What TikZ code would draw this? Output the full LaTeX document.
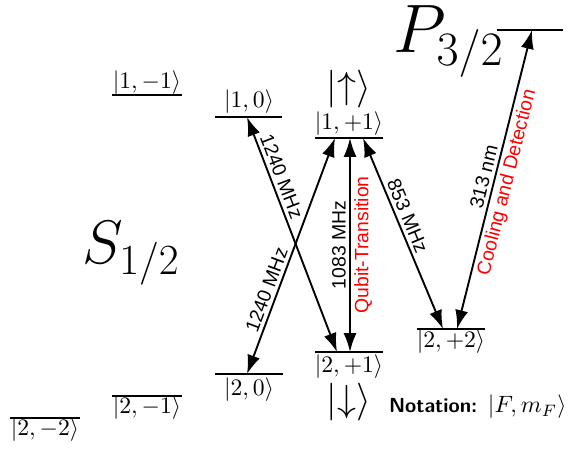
\RequirePackage{fix-cm}
\documentclass[tikz,border=0pt]{standalone}
\usepackage{fontspec}
\newfontfamily\arialf{Liberation Sans}
\usetikzlibrary{arrows.meta}
\begin{document}
\begin{tikzpicture}[x=0.423pt,y=-0.423pt,
  lvl/.style={line width=1.2pt},
  bar/.style={line width=0.8pt},
  lab/.style={inner sep=0pt},
  tr/.style={line width=0.8pt,{Latex[length=8pt,width=5.5pt]}-{Latex[length=8pt,width=5.5pt]}},
  fl/.style={font=\arialf\fontsize{8.2}{9}\selectfont,sloped,inner sep=1.4pt},
  red/.style={text=red}
]
\useasboundingbox (0,0) rectangle (570,451);

% ---- level lines
\draw[lvl] (215,117) -- (282,117);
\draw[lvl] (315,138) -- (383,138);
\draw[lvl] (497,30) -- (563,30);
\draw[lvl] (417,329) -- (485,329);
\draw[lvl] (315,352) -- (383,352);
\draw[lvl] (215,374) -- (283,374);

% ---- labels
\node[lab] (t1m1) at (147,83) {$|1,-1\rangle$};
\draw[bar] (t1m1.south west) -- (t1m1.south east);
\node[lab] (t10) at (249,102) {$|1,0\rangle$};
\node[lab] (t11) at (349,124) {$|1,+1\rangle$};
\node[lab,font=\fontsize{16}{19}\selectfont] (tup) at (349,89) {$|{\uparrow}\rangle$};
\node[lab,anchor=base west,font=\fontsize{29}{33}\selectfont] (tP) at (393,53) {$P_{3/2}$};
\node[lab,anchor=base west,font=\fontsize{26}{30}\selectfont] (tS) at (82,263) {$S_{1/2}$};
\node[lab] (t22) at (451,342) {$|2,+2\rangle$};
\node[lab] (t21) at (349,367) {$|2,+1\rangle$};
\node[lab,font=\fontsize{16}{19}\selectfont] (tdn) at (349,402) {$|{\downarrow}\rangle$};
\node[lab] (t20) at (249,390) {$|2,0\rangle$};
\node[lab] (t2m1) at (147,408) {$|2,-1\rangle$};
\draw[bar] (t2m1.north west) -- (t2m1.north east);
\node[lab] (t2m2) at (45,430) {$|2,-2\rangle$};
\draw[bar] (t2m2.north west) -- (t2m2.north east);
\node[lab,anchor=east] (nota) at (567,407) {{\fontsize{8.6}{11}\selectfont\sffamily\bfseries Notation:} $|F,m_F\rangle$};

% ---- arrow end points
\coordinate (a10) at (247,117);
\coordinate (a11l) at (335,138);
\coordinate (a11m) at (350,138);
\coordinate (a11r) at (363,138);
\coordinate (a21l) at (337,352);
\coordinate (a21m) at (350,352);
\coordinate (a20) at (247,374);
\coordinate (a22l) at (443,329);
\coordinate (a22r) at (457,329);
\coordinate (aP) at (532,30);

% ---- transitions
\draw[tr] (a10) -- node[fl,above,pos=0.27] {1240 MHz} (a21l);
\draw[tr] (a20) -- node[fl,above,pos=0.34] {1240 MHz} (a11l);
\draw[tr] (a21m) -- node[fl,above] {1083 MHz} node[fl,below,red] {Qubit-Transition} (a11m);
\draw[tr] (a11r) -- node[fl,above,pos=0.43] {853 MHz} (a22l);
\draw[tr] (a22r) -- node[fl,above] {313 nm} node[fl,below,red] {Cooling and Detection} (aP);
\end{tikzpicture}
\end{document}
